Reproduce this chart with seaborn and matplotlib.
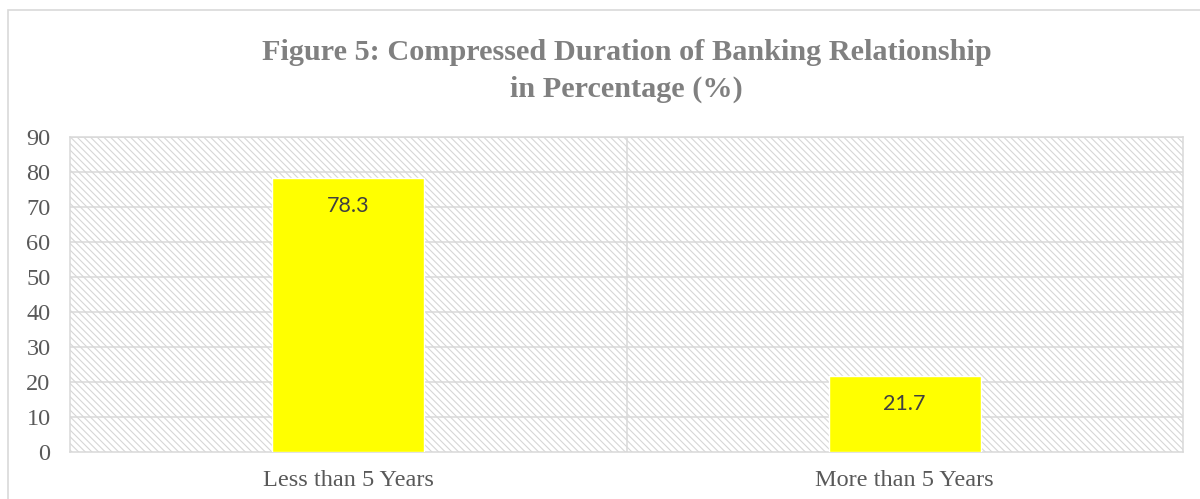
import matplotlib
matplotlib.use("Agg")
import matplotlib.pyplot as plt
from matplotlib.patches import Rectangle
import seaborn as sns

# Data
categories = ["Less than 5 Years", "More than 5 Years"]
values = [78.3, 21.7]
y_ticks = [0, 10, 20, 30, 40, 50, 60, 70, 80, 90]

title_text = "Figure 5: Compressed Duration of Banking Relationship\nin Percentage (%)"

sns.set_style("white")
plt.rcParams["hatch.linewidth"] = 0.8

fig = plt.figure(figsize=(12, 4.99), dpi=100)
ax = fig.add_axes([70 / 1200, 1 - 452 / 499, (1183 - 70) / 1200, (452 - 137) / 499])

grid_color = "#d9d9d9"

# Hatched plot-area background
bg = Rectangle((0, 0), 1, 1, transform=ax.transAxes, facecolor="white",
               edgecolor="#d6d6d6", linewidth=0, hatch="\\" * 5, zorder=0)
ax.add_patch(bg)
ax.patch.set_visible(False)

sns.barplot(x=categories, y=values, color="#FFFF00", saturation=1,
            width=0.273, ax=ax, zorder=3)

ax.set_xlim(-0.5, 1.5)
ax.set_ylim(0, 90)
ax.set_yticks(y_ticks)
ax.set_xlabel("")
ax.set_ylabel("")

# Gridlines and category divider
for yv in y_ticks[1:]:
    ax.axhline(yv, color=grid_color, linewidth=1.1, zorder=1)
ax.axvline(0.5, color=grid_color, linewidth=1.1, zorder=1)
for sp in ax.spines.values():
    sp.set_visible(True)
    sp.set_color(grid_color)
    sp.set_linewidth(1.1)

ax.tick_params(axis="both", length=0, colors="#595959", labelsize=17.5)
ax.tick_params(axis="y", pad=14)
ax.tick_params(axis="x", pad=13)
for lab in ax.get_xticklabels() + ax.get_yticklabels():
    lab.set_family("Liberation Serif")

# Value labels inside the top of each bar
for i, v in enumerate(values):
    ax.annotate(f"{v}", xy=(i, v), xytext=(0, -20), textcoords="offset points",
                ha="center", va="center", fontsize=15.5, color="#404040",
                family="Lato", zorder=5)

# Title centred over the plot area
fig.text((70 + 1183) / 2 / 1200, 1 - 71 / 499, title_text, ha="center",
         va="center", fontsize=21.8, fontweight="bold", color="#808080",
         family="Liberation Serif", linespacing=1.42)

# Chart-area border
fig.patches.append(Rectangle((8 / 1200, -0.1), 1.1, 1 - 10 / 499 + 0.1,
                             transform=fig.transFigure, fill=False,
                             edgecolor="#d9d9d9", linewidth=1.2))

fig.savefig("out.png", dpi=100, facecolor="white")
